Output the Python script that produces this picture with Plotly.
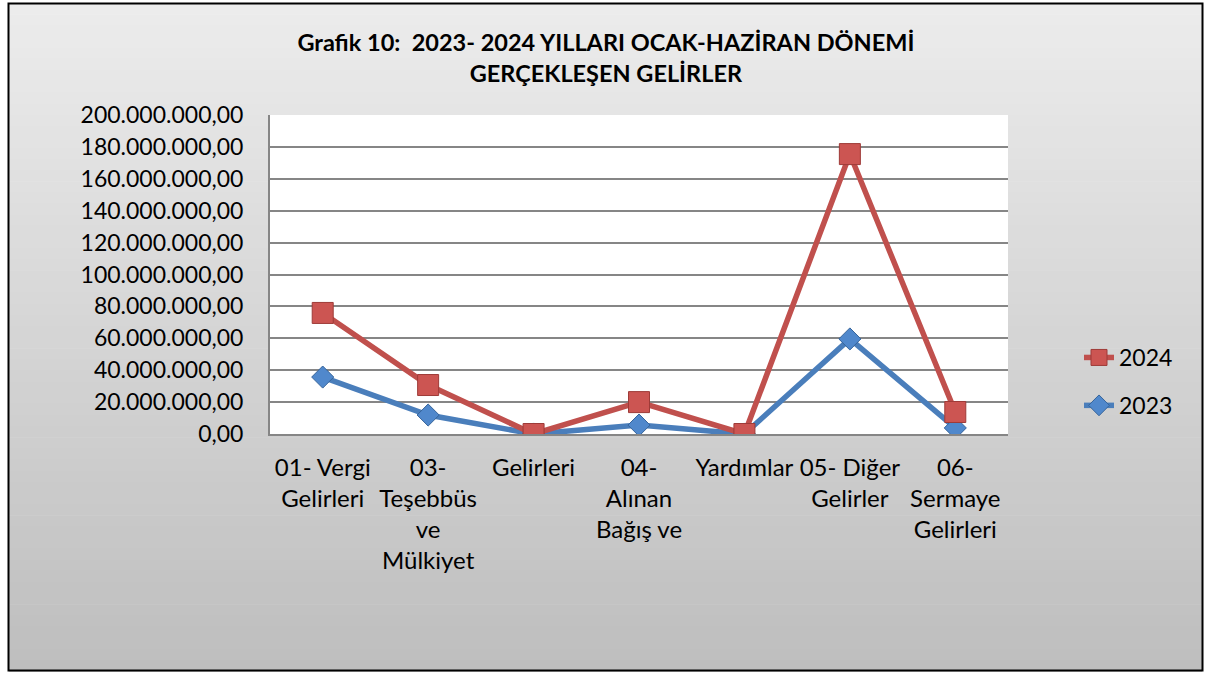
import plotly.graph_objects as go

categories = ["01- Vergi Gelirleri", "03- Teşebbüs ve Mülkiyet", "Gelirleri",
              "04- Alınan Bağış ve", "Yardımlar", "05- Diğer Gelirler", "06- Sermaye Gelirleri"]
tick_labels = ["01- Vergi<br>Gelirleri", "03-<br>Teşebbüs<br>ve<br>Mülkiyet", "Gelirleri",
               "04-<br>Alınan<br>Bağış ve", "Yardımlar", "05- Diğer<br>Gelirler", "06-<br>Sermaye<br>Gelirleri"]
values_2024 = [75900000, 30700000, 0, 20000000, 0, 175500000, 13800000]
values_2023 = [35700000, 11900000, 0, 5600000, 0, 59600000, 3800000]
y_ticks = [0, 20e6, 40e6, 60e6, 80e6, 100e6, 120e6, 140e6, 160e6, 180e6, 200e6]

W, H = 1207, 675
L, R, T, B = 270, 1008, 115, 434
FONT = "Lato"

def px2x(px):
    return (px - L) / (R - L)

def py2y(py):
    return (B - py) / (B - T)

xi = list(range(len(categories)))

fig = go.Figure()
fig.add_trace(go.Scatter(
    x=xi, y=values_2023, name="2023", mode="lines+markers",
    line=dict(color="#4A7EBB", width=5.5),
    marker=dict(symbol="diamond", size=17, color="#5088CC",
                line=dict(color="#36649A", width=1)),
    legendgroup="a", legendrank=2,
))
fig.add_trace(go.Scatter(
    x=xi, y=values_2024, name="2024", mode="lines+markers",
    line=dict(color="#C0504D", width=5.5),
    marker=dict(symbol="square", size=21, color="#CC5552",
                line=dict(color="#9E3B38", width=1)),
    legendgroup="b", legendrank=1,
))

shapes = []
# gradient background
top, bot = 3, 671
N = 60
for i in range(N):
    a = top + (bot - top) * i / N
    b = top + (bot - top) * (i + 1) / N
    t = i / (N - 1)
    c = int(round(236 - (236 - 190) * t))
    shapes.append(dict(type="rect", xref="paper", yref="paper",
                       x0=px2x(9), x1=px2x(1202), y0=py2y(b) - 0.002, y1=py2y(a),
                       fillcolor=f"rgb({c},{c},{c})", line=dict(width=0), layer="below"))
# white plot area
shapes.append(dict(type="rect", xref="paper", yref="paper", x0=0, x1=1, y0=0, y1=1,
                   fillcolor="white", line=dict(width=0), layer="below"))
# outer border
shapes.append(dict(type="rect", xref="paper", yref="paper",
                   x0=px2x(8.5), x1=px2x(1202.5), y0=py2y(670.5), y1=py2y(3.5),
                   line=dict(color="black", width=2), fillcolor="rgba(0,0,0,0)", layer="above"))

fig.update_layout(
    width=W, height=H,
    margin=dict(l=L, r=W - R, t=T, b=H - B, pad=0),
    paper_bgcolor="white",
    plot_bgcolor="white",
    separators=",.",
    font=dict(family=FONT, size=23, color="black"),
    title=dict(
        text="<b>Grafik 10:  2023- 2024 YILLARI OCAK-HAZİRAN DÖNEMİ<br>GERÇEKLEŞEN GELİRLER</b>",
        x=0.502, xanchor="center", y=1 - 51 / H, yanchor="top",
        font=dict(family=FONT, size=23.5, color="black"),
    ),
    shapes=shapes,
    showlegend=True,
    legend=dict(
        x=px2x(1079), xanchor="left", y=py2y(336), yanchor="top",
        traceorder="grouped", tracegroupgap=15,
        bgcolor="rgba(0,0,0,0)", font=dict(family=FONT, size=23),
    ),
    xaxis=dict(
        range=[-0.5, len(categories) - 0.5],
        tickmode="array", tickvals=xi, ticktext=tick_labels,
        showgrid=False, zeroline=False,
        showline=True, linecolor="#868686", linewidth=2,
        ticks="", ticklabelstandoff=11, tickfont=dict(family=FONT, size=24),
    ),
    yaxis=dict(
        range=[0, 200e6], tickmode="array", tickvals=y_ticks,
        tickformat=",.2f",
        showgrid=True, gridcolor="#868686", gridwidth=1.5,
        zeroline=False,
        showline=True, linecolor="#868686", linewidth=2,
        ticks="", ticklabelstandoff=20,
        tickfont=dict(family=FONT, size=23),
    ),
)

fig.write_html("out.html", config={"displayModeBar": False},
               post_script="document.body.style.margin='0';")
